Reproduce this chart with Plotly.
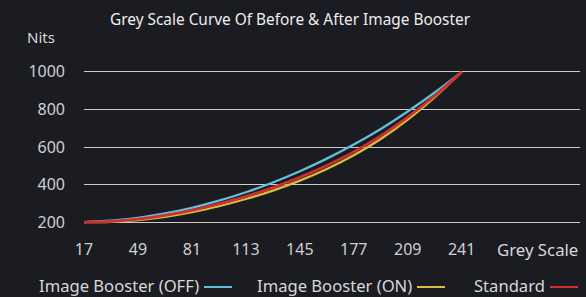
import plotly.graph_objects as go

# ---- data ----
grey_levels = [17, 33, 49, 65, 81, 97, 113, 129, 145, 161, 177, 193, 209, 225, 241]
booster_off = [200, 208, 223, 246, 276, 314, 359, 411, 471, 538, 613, 696, 789, 890, 1000]
booster_on = [200, 202, 211, 228, 253, 285, 323, 368, 421, 483, 556, 643, 746, 866, 1000]
standard = [200, 204, 216, 236, 263, 297, 337, 384, 439, 502, 574, 659, 759, 873, 1000]
x_ticks = [17, 49, 81, 113, 145, 177, 209, 241]
y_ticks = [200, 400, 600, 800, 1000]
series_names = ["Image Booster (OFF)", "Image Booster (ON)", "Standard"]
series_colors = ["#62bfdc", "#d6bf3e", "#cf2f2f"]

W, H = 586, 297
ML, MR, MT, MB = 84, 6, 70, 73
BG = "#1b1b22"
FONT = "Noto Sans"


def px_x(px):
    return (px - ML) / (W - ML - MR)


def px_y(py):
    return (H - MB - py) / (H - MT - MB)


fig = go.Figure()
for name, vals, col, wd in [
    (series_names[0], booster_off, series_colors[0], 2.3),
    (series_names[1], booster_on, series_colors[1], 2.3),
    (series_names[2], standard, series_colors[2], 2.8),
]:
    fig.add_trace(go.Scatter(
        x=grey_levels, y=vals, mode="lines", name=name,
        line=dict(color=col, width=wd, shape="spline", smoothing=1.0),
        showlegend=False, hoverinfo="skip",
    ))

px_per_unit = (461.7 - 84) / (241 - 17)
x_right = 17 + (W - MR - ML) / px_per_unit

fig.update_layout(
    width=W, height=H,
    margin=dict(l=ML, r=MR, t=MT, b=MB, pad=0),
    paper_bgcolor=BG, plot_bgcolor=BG,
    font=dict(family=FONT, color="#d8d8d8", size=16),
    title=dict(text="Grey Scale Curve Of Before & After Image Booster",
               x=0.495, xanchor="center", y=1 - 20 / H, yanchor="middle",
               font=dict(size=15.4, color="#eeeeee", family=FONT)),
    xaxis=dict(range=[17, x_right], tickvals=x_ticks, ticktext=[str(v) for v in x_ticks],
               showgrid=False, zeroline=False, showline=False,
               ticks="", ticklabelstandoff=14,
               tickfont=dict(size=16, color="#d0d0d0")),
    yaxis=dict(range=[190, 1010], tickvals=y_ticks, ticktext=[str(v) for v in y_ticks],
               showgrid=True, gridcolor="#cccccc", gridwidth=1,
               zeroline=False, showline=False, ticks="", ticklabelstandoff=18,
               tickfont=dict(size=16, color="#d0d0d0")),
)

annotations = [
    dict(text="Nits", x=px_x(57), y=px_y(37), xanchor="right", yanchor="middle",
         font=dict(size=15)),
    dict(text="Grey Scale", x=px_x(580), y=px_y(249.5), xanchor="right", yanchor="middle",
         font=dict(size=16.8)),
]
legend_layout = [(201, 204, 232), (414, 417, 445), (547, 550, 578)]
shapes = []
for name, col, (tx, l0, l1) in zip(series_names, series_colors, legend_layout):
    annotations.append(dict(text=name, x=px_x(tx), y=px_y(285.5), xanchor="right", yanchor="middle",
                            font=dict(size=16.6)))
    shapes.append(dict(type="line", xref="paper", yref="paper",
                       x0=px_x(l0), x1=px_x(l1), y0=px_y(287), y1=px_y(287),
                       line=dict(color=col, width=2)))
for a in annotations:
    a["font"].update(color="#d8d8d8", family=FONT)
    a.update(xref="paper", yref="paper", showarrow=False)
fig.update_layout(annotations=annotations, shapes=shapes)

fig.write_html("out.html", config={"displayModeBar": False},
               post_script="document.body.style.margin='0';document.body.style.background='#1b1b22';")
